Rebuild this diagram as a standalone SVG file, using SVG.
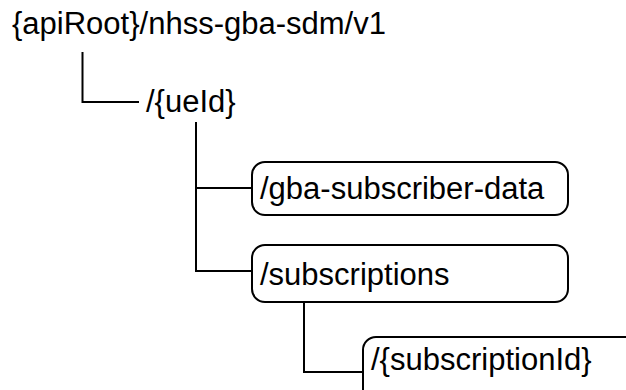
<svg xmlns="http://www.w3.org/2000/svg" width="626" height="390" viewBox="0 0 626 390">
<style>
text{font-family:"Liberation Sans",Arial,sans-serif;font-size:31px;fill:#000}
.box{fill:#fff;stroke:#000;stroke-width:2}
.conn path{fill:none;stroke:#000;stroke-width:2}
</style>
<rect width="626" height="390" fill="#fff"/>
<g class="conn" id="connectors">
<path d="M82.5,52 V102 H139"/>
<path d="M196,122 V271 H252 M196,188 H252"/>
<path d="M304,302 V372 H363"/>
</g>
<g id="root"><text x="12" y="34">{apiRoot}/nhss-gba-sdm/v1</text></g>
<g id="ueId"><text x="146" y="112">/{ueId}</text></g>
<g id="gba-subscriber-data"><rect class="box" x="252" y="162" width="316" height="53" rx="13"/><text x="260" y="199">/gba-subscriber-data</text></g>
<g id="subscriptions"><rect class="box" x="252" y="245" width="316" height="57" rx="13"/><text x="260" y="285">/subscriptions</text></g>
<g id="subscriptionId"><rect class="box" x="363" y="337" width="300" height="70" rx="13"/><text x="371" y="370">/{subscriptionId}</text></g>
</svg>
